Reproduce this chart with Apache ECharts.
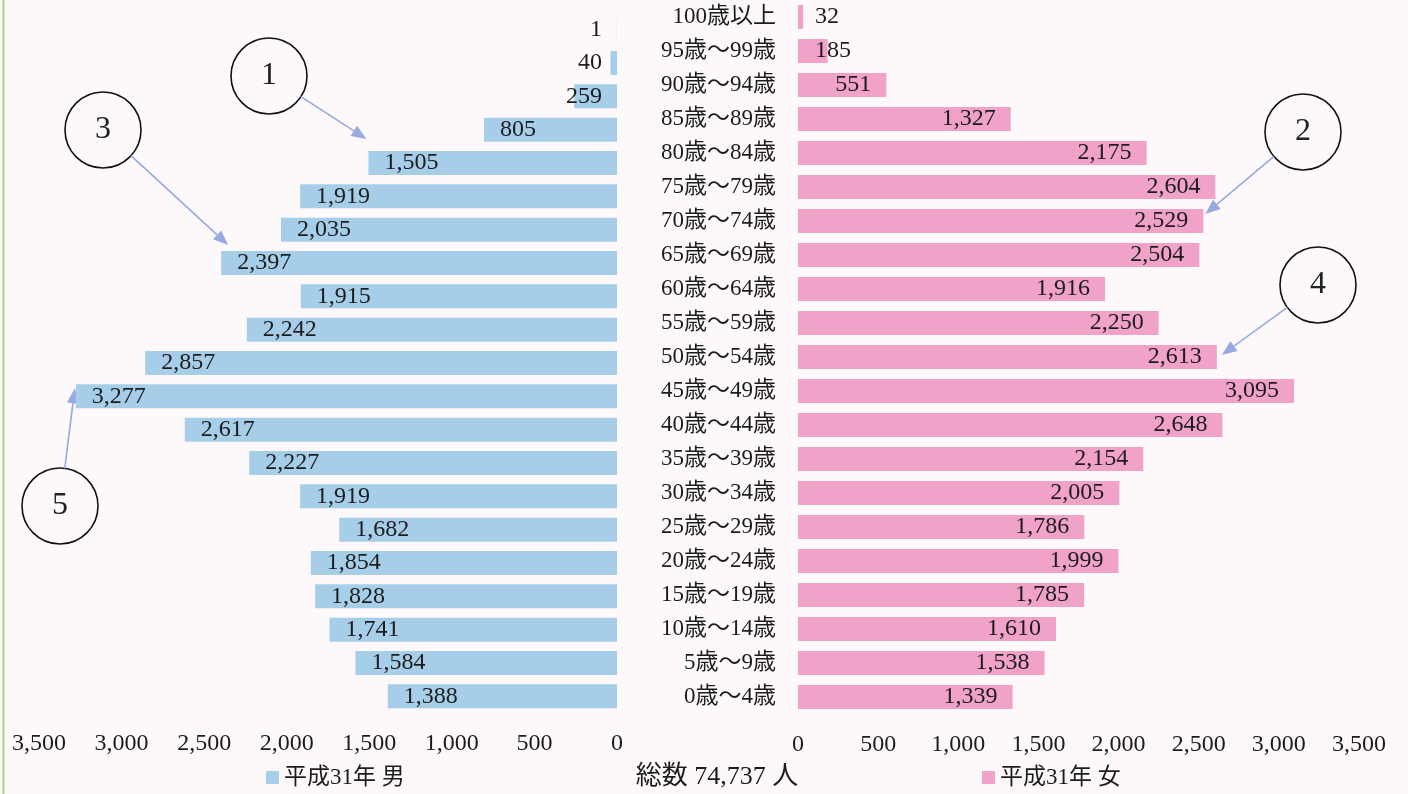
<!DOCTYPE html>
<html>
<head>
<meta charset="utf-8">
<script src="https://cdn.jsdelivr.net/npm/echarts@6/dist/echarts.min.js"></script>
<style>
  html, body { margin: 0; padding: 0; background: #fdf9fa; }
  #chart { width: 1408px; height: 794px; }
</style>
</head>
<body>
<div id="chart"></div>
<script>
// Age groups, top (oldest) to bottom (youngest)
const ageGroups = [
  '100歳以上', '95歳～99歳', '90歳～94歳', '85歳～89歳', '80歳～84歳',
  '75歳～79歳', '70歳～74歳', '65歳～69歳', '60歳～64歳', '55歳～59歳',
  '50歳～54歳', '45歳～49歳', '40歳～44歳', '35歳～39歳', '30歳～34歳',
  '25歳～29歳', '20歳～24歳', '15歳～19歳', '10歳～14歳', '5歳～9歳', '0歳～4歳'
];
const male = [1, 40, 259, 805, 1505, 1919, 2035, 2397, 1915, 2242, 2857, 3277,
              2617, 2227, 1919, 1682, 1854, 1828, 1741, 1584, 1388];
const female = [32, 185, 551, 1327, 2175, 2604, 2529, 2504, 1916, 2250, 2613, 3095,
                2648, 2154, 2005, 1786, 1999, 1785, 1610, 1538, 1339];
const maleName = '平成31年 男';
const femaleName = '平成31年 女';
const axisMax = 3500;
const axisStep = 500;

// Numbered callouts: which bar each arrow points at
const callouts = [
  { num: '1', side: 0, group: '80歳～84歳', center: [269, 76],  dx: -2, dy: -24 },
  { num: '3', side: 0, group: '65歳～69歳', center: [103, 130], dx: 7,  dy: -18 },
  { num: '5', side: 0, group: '45歳～49歳', center: [60, 506],  dx: -1, dy: -8 },
  { num: '2', side: 1, group: '70歳～74歳', center: [1303, 132], dx: 2, dy: -7 },
  { num: '4', side: 1, group: '50歳～54歳', center: [1318, 285], dx: 5, dy: -2 }
];

const serif = '"Liberation Serif", "Noto Sans CJK JP", serif';
const textColor = '#1c1c1c';
const fmt = v => Number(v).toLocaleString('en-US');
const total = male.reduce((a, b) => a + b, 0) + female.reduce((a, b) => a + b, 0);

const labelBase = { show: true, color: textColor, fontFamily: serif, fontSize: 24, formatter: p => fmt(p.value) };

const maleData = male.map(v => ({
  value: v,
  label: Object.assign({}, labelBase, v < 400
    ? { position: 'insideRight', distance: 15 }
    : { position: 'insideLeft', distance: 16 })
}));
const femaleData = female.map(v => ({
  value: v,
  label: Object.assign({}, labelBase, v < 400
    ? { position: 'insideLeft', distance: 17 }
    : { position: 'insideRight', distance: 15 })
}));

const chart = echarts.init(document.getElementById('chart'));

const valueAxisLabel = {
  color: textColor, fontFamily: serif, fontSize: 24, margin: 19,
  formatter: v => fmt(v)
};

chart.setOption({
  backgroundColor: '#fdf9fa',
  animation: false,
  grid: [
    { left: 39, width: 578, top: 13, height: 700 },
    { left: 798, width: 561, top: 0, height: 714 }
  ],
  xAxis: [
    { type: 'value', gridIndex: 0, inverse: true, min: 0, max: axisMax, interval: axisStep,
      axisLine: { show: false }, axisTick: { show: false }, splitLine: { show: false },
      axisLabel: valueAxisLabel },
    { type: 'value', gridIndex: 1, min: 0, max: axisMax, interval: axisStep,
      axisLine: { show: false }, axisTick: { show: false }, splitLine: { show: false },
      axisLabel: valueAxisLabel }
  ],
  yAxis: [
    { type: 'category', gridIndex: 0, data: ageGroups, inverse: true,
      axisLine: { show: false }, axisTick: { show: false }, axisLabel: { show: false } },
    { type: 'category', gridIndex: 1, data: ageGroups, inverse: true,
      axisLine: { show: false }, axisTick: { show: false },
      axisLabel: { color: textColor, fontFamily: serif, fontSize: 23, margin: 22, align: 'right' } }
  ],
  legend: [
    { data: [maleName], left: 261, top: 761, icon: 'rect', itemWidth: 13, itemHeight: 13, itemGap: 6,
      textStyle: { color: textColor, fontFamily: serif, fontSize: 23 } },
    { data: [femaleName], left: 977, top: 761, icon: 'rect', itemWidth: 13, itemHeight: 13, itemGap: 6,
      textStyle: { color: textColor, fontFamily: serif, fontSize: 23 } }
  ],
  title: {
    text: '総数 ' + fmt(total) + ' 人',
    left: 712, top: 759, textAlign: 'center',
    textStyle: { color: textColor, fontFamily: serif, fontSize: 26, fontWeight: 'normal' }
  },
  series: [
    { name: maleName, type: 'bar', xAxisIndex: 0, yAxisIndex: 0, barWidth: 24,
      itemStyle: { color: '#a6cee9' }, data: maleData },
    { name: femaleName, type: 'bar', xAxisIndex: 1, yAxisIndex: 1, barWidth: 24,
      itemStyle: { color: '#f0a2c9' }, data: femaleData }
  ]
});

// Callout circles with arrows pointing at the referenced bar ends
const arrowColor = '#97a9e0';
const radius = 38;
const graphics = [
  { type: 'line', shape: { x1: 3.5, y1: 0, x2: 3.5, y2: 794 }, style: { stroke: '#b3cd8f', lineWidth: 2 } }
];
callouts.forEach(c => {
  const vals = c.side === 0 ? male : female;
  const v = vals[ageGroups.indexOf(c.group)];
  const p = chart.convertToPixel({ xAxisIndex: c.side, yAxisIndex: c.side }, [v, c.group]);
  const tip = [p[0] + c.dx, p[1] + c.dy];
  const dxv = tip[0] - c.center[0], dyv = tip[1] - c.center[1];
  const len = Math.sqrt(dxv * dxv + dyv * dyv);
  const ux = dxv / len, uy = dyv / len;
  const tail = [c.center[0] + ux * radius, c.center[1] + uy * radius];
  const headLen = 15, headHalf = 6;
  const base = [tip[0] - ux * headLen, tip[1] - uy * headLen];
  graphics.push(
    { type: 'circle', shape: { cx: c.center[0], cy: c.center[1], r: radius },
      style: { fill: 'rgba(0,0,0,0)', stroke: '#111', lineWidth: 1.6 } },
    { type: 'text', x: c.center[0], y: c.center[1],
      style: { text: c.num, fill: '#222', font: '32px ' + serif, align: 'center', verticalAlign: 'middle' } },
    { type: 'line', shape: { x1: tail[0], y1: tail[1], x2: base[0], y2: base[1] },
      style: { stroke: arrowColor, lineWidth: 1.6 } },
    { type: 'polygon', shape: { points: [
        tip,
        [base[0] - uy * headHalf, base[1] + ux * headHalf],
        [base[0] + uy * headHalf, base[1] - ux * headHalf]
      ] }, style: { fill: arrowColor } }
  );
});
chart.setOption({ graphic: graphics });
</script>
</body>
</html>
